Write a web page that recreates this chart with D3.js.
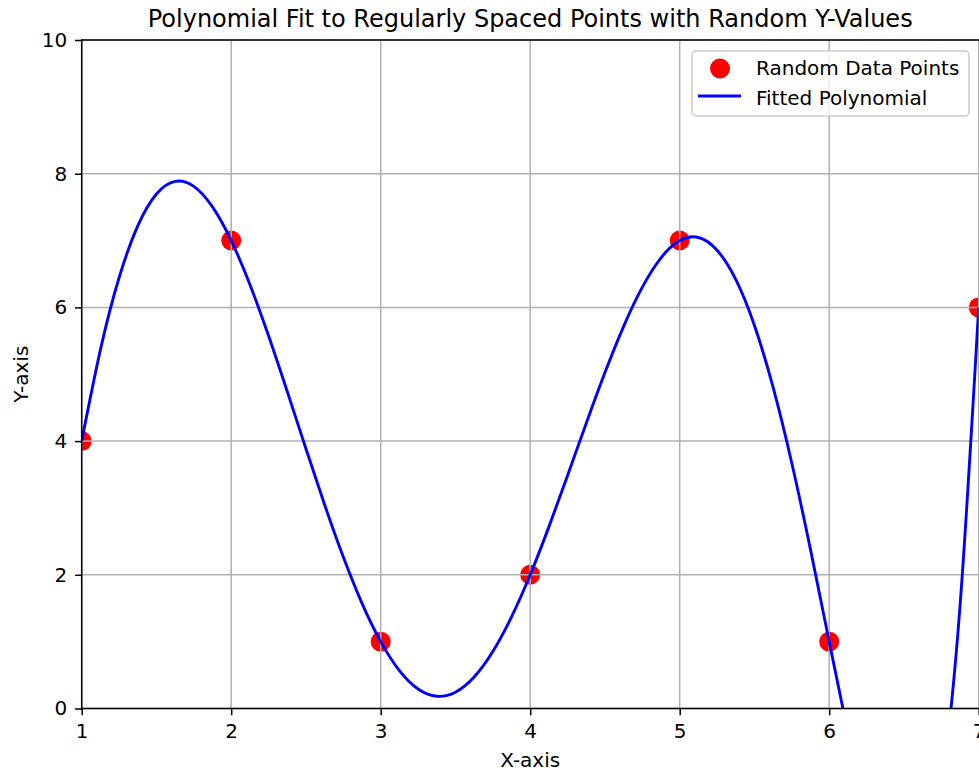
<!DOCTYPE html>
<html>
<head>
<meta charset="utf-8">
<script src="https://cdn.jsdelivr.net/npm/d3@7"></script>
<style>
  html, body { margin: 0; padding: 0; background: #fff; }
  svg { display: block; font-family: "DejaVu Sans", sans-serif; }
</style>
</head>
<body>
<div id="chart"></div>
<script>
// data points (regularly spaced x, random y)
const pointX = [1, 2, 3, 4, 5, 6, 7];
const pointY = [4, 7, 1, 2, 7, 1, 6];

// fitted polynomial, every 0.125
const curveX = [1, 1.125, 1.25, 1.375, 1.5, 1.625, 1.75, 1.875,
  2, 2.125, 2.25, 2.375, 2.5, 2.625, 2.75, 2.875,
  3, 3.125, 3.25, 3.375, 3.5, 3.625, 3.75, 3.875,
  4, 4.125, 4.25, 4.375, 4.5, 4.625, 4.75, 4.875,
  5, 5.125, 5.25, 5.375, 5.5, 5.625, 5.75, 5.875,
  6, 6.125, 6.25, 6.375, 6.5, 6.625, 6.75, 6.875, 7];
const curveY = [4, 5.364, 6.443, 7.220, 7.697, 7.886, 7.811, 7.503,
  7, 6.343, 5.575, 4.741, 3.885, 3.047, 2.265, 1.573,
  1, 0.567, 0.292, 0.183, 0.244, 0.470, 0.851, 1.369,
  2, 2.717, 3.485, 4.268, 5.025, 5.717, 6.303, 6.742,
  7, 7.046, 6.856, 6.418, 5.729, 4.802, 3.668, 2.376,
  1, -0.361, -1.578, -2.490, -2.897, -2.560, -1.195, 1.530, 6];

const xTicks = [1, 2, 3, 4, 5, 6, 7];
const yTicks = [0, 2, 4, 6, 8, 10];

const width = 979, height = 771;
const plotLeft = 81.7, plotRight = 978.7, plotTop = 40, plotBottom = 708.5;
const fontSize = "20px";

const svg = d3.select("#chart").append("svg")
  .attr("width", width)
  .attr("height", height);

const x = d3.scaleLinear().domain([1, 7]).range([plotLeft, plotRight]);
const y = d3.scaleLinear().domain([0, 10]).range([plotBottom, plotTop]);

svg.append("defs").append("clipPath").attr("id", "plot")
  .append("rect")
  .attr("x", plotLeft).attr("y", plotTop)
  .attr("width", plotRight - plotLeft).attr("height", plotBottom - plotTop);

// scatter (below grid, like matplotlib)
svg.append("g").attr("clip-path", "url(#plot)")
  .selectAll("circle")
  .data(pointX.map((d, i) => [d, pointY[i]]))
  .join("circle")
  .attr("cx", d => x(d[0]))
  .attr("cy", d => y(d[1]))
  .attr("r", 10)
  .attr("fill", "#ff0000");

// grid
const grid = svg.append("g").attr("stroke", "#b0b0b0").attr("stroke-width", 1.5);
grid.selectAll(".gx").data(xTicks).join("line")
  .attr("class", "gx")
  .attr("x1", d => x(d)).attr("x2", d => x(d))
  .attr("y1", plotTop).attr("y2", plotBottom);
grid.selectAll(".gy").data(yTicks).join("line")
  .attr("class", "gy")
  .attr("x1", plotLeft).attr("x2", plotRight)
  .attr("y1", d => y(d)).attr("y2", d => y(d));

// fitted curve
const line = d3.line()
  .x(d => x(d[0]))
  .y(d => y(d[1]))
  .curve(d3.curveNatural);

svg.append("path")
  .attr("clip-path", "url(#plot)")
  .datum(curveX.map((d, i) => [d, curveY[i]]))
  .attr("d", line)
  .attr("fill", "none")
  .attr("stroke", "#0000ff")
  .attr("stroke-width", 2.9);

// axes
const xAxis = svg.append("g")
  .attr("transform", `translate(0,${plotBottom})`)
  .call(d3.axisBottom(x).tickValues(xTicks).tickFormat(d3.format("d"))
    .tickSize(6.8).tickPadding(8.4));
const yAxis = svg.append("g")
  .attr("transform", `translate(${plotLeft},0)`)
  .call(d3.axisLeft(y).tickValues(yTicks).tickFormat(d3.format("d"))
    .tickSize(6.8).tickPadding(7.6));

[xAxis, yAxis].forEach(g => {
  g.select(".domain").remove();
  g.selectAll(".tick line").attr("stroke", "#000").attr("stroke-width", 1.5);
  g.selectAll(".tick text")
    .attr("fill", "#000")
    .style("font-family", "DejaVu Sans")
    .style("font-size", fontSize);
});

// spines (right one sits at the image edge)
const spines = svg.append("g").attr("stroke", "#000").attr("stroke-width", 1.5);
spines.append("line").attr("x1", plotLeft).attr("x2", plotLeft).attr("y1", plotTop - 0.75).attr("y2", plotBottom + 0.75);
spines.append("line").attr("x1", plotLeft).attr("x2", width).attr("y1", plotBottom).attr("y2", plotBottom);
spines.append("line").attr("x1", plotLeft).attr("x2", width).attr("y1", plotTop).attr("y2", plotTop);

// title and labels
svg.append("text")
  .attr("x", (plotLeft + plotRight) / 2).attr("y", 26.7)
  .attr("text-anchor", "middle")
  .style("font-size", "24px")
  .text("Polynomial Fit to Regularly Spaced Points with Random Y-Values");

svg.append("text")
  .attr("x", (plotLeft + plotRight) / 2).attr("y", 767)
  .attr("text-anchor", "middle")
  .style("font-size", fontSize)
  .text("X-axis");

svg.append("text")
  .attr("transform", `translate(28.3,${(plotTop + plotBottom) / 2}) rotate(-90)`)
  .attr("text-anchor", "middle")
  .style("font-size", fontSize)
  .text("Y-axis");

// legend
const legend = svg.append("g");
legend.append("rect")
  .attr("x", 692).attr("y", 51)
  .attr("width", 277).attr("height", 65)
  .attr("rx", 4)
  .attr("fill", "#fff").attr("fill-opacity", 0.8)
  .attr("stroke", "#cccccc").attr("stroke-width", 1.5);
legend.append("circle")
  .attr("cx", 720).attr("cy", 68.5).attr("r", 10)
  .attr("fill", "#ff0000");
legend.append("line")
  .attr("x1", 698).attr("x2", 741)
  .attr("y1", 96).attr("y2", 96)
  .attr("stroke", "#0000ff").attr("stroke-width", 2.9);
legend.append("text")
  .attr("x", 756).attr("y", 74.5)
  .style("font-size", fontSize)
  .text("Random Data Points");
legend.append("text")
  .attr("x", 756).attr("y", 104.5)
  .style("font-size", fontSize)
  .text("Fitted Polynomial");
</script>
</body>
</html>
